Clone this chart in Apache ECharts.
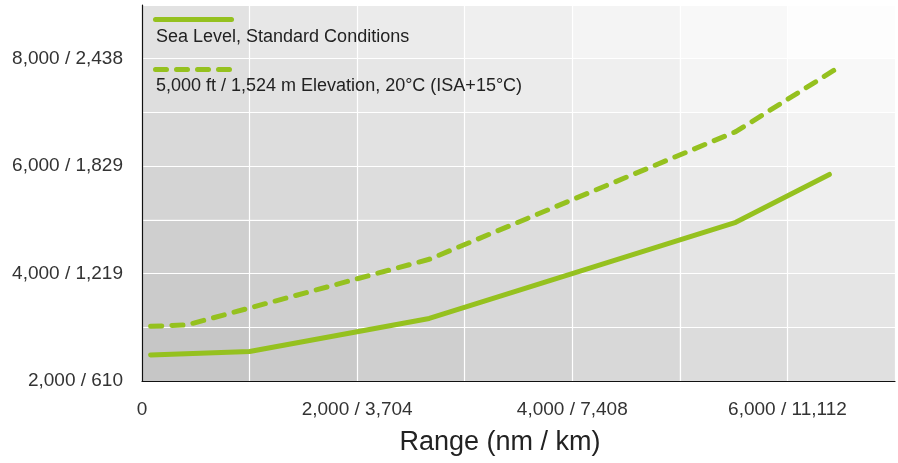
<!DOCTYPE html>
<html>
<head>
<meta charset="utf-8">
<script src="https://cdn.jsdelivr.net/npm/echarts@6/dist/echarts.min.js"></script>
<style>
html,body{margin:0;padding:0;background:#fff;overflow:hidden;}
#chart{width:898px;height:463px;}
</style>
</head>
<body>
<div id="chart"></div>
<script>
// ---- data ----
const seriesNames = ['Sea Level, Standard Conditions', '5,000 ft / 1,524 m Elevation, 20°C (ISA+15°C)'];
const rangeSea = [80, 1000, 2670, 5520, 6390];
const ceilSea  = [2484, 2550, 3164, 4955, 5845];
const rangeHot = [80, 420, 2670, 5520, 6430];
const ceilHot  = [3018, 3045, 4266, 6642, 7781];
const xTickValues = [0, 2000, 4000, 6000];
const xTickLabels = ['0', '2,000 / 3,704', '4,000 / 7,408', '6,000 / 11,112'];
const yTickValues = [2000, 4000, 6000, 8000];
const yTickLabels = ['2,000 / 610', '4,000 / 1,219', '6,000 / 1,829', '8,000 / 2,438'];
const xName = 'Range (nm / km)';

// ---- styling ----
const GREEN = '#95c11f';
const FONT = '"Liberation Sans", Arial, Helvetica, sans-serif';
const X_MIN = 0, X_MAX = 7000, X_STEP = 1000;
const Y_MIN = 2000, Y_MAX = 9000, Y_STEP = 1000;
const DASH = 11, GAP = 10;

// background cells derived from axis extents
const cells = [];
for (let i = 0; i < (X_MAX - X_MIN) / X_STEP; i++) {
  for (let j = 0; j < (Y_MAX - Y_MIN) / Y_STEP; j++) {
    cells.push([X_MIN + i * X_STEP, Y_MIN + j * Y_STEP, i, j]);
  }
}
function cellColor(i, j) {
  const v = Math.min(255, Math.round(198 + 4.4 * i + 4.7 * j));
  return 'rgb(' + v + ',' + v + ',' + v + ')';
}

const seaData = rangeSea.map((r, k) => [r, ceilSea[k]]);
const hotData = rangeHot.map((r, k) => [r, ceilHot[k]]);

const chart = echarts.init(document.getElementById('chart'), null, {renderer: 'canvas'});
chart.setOption({
  backgroundColor: '#ffffff',
  animation: false,
  grid: {left: 142, width: 758, top: 5, height: 376},
  xAxis: {
    type: 'value', min: X_MIN, max: X_MAX, interval: X_STEP,
    axisLine: {show: true, onZero: false, lineStyle: {color: '#111', width: 1.2}},
    axisTick: {show: false},
    axisLabel: {
      margin: 19, fontSize: 19, color: '#333', fontFamily: FONT,
      formatter: function (v) { const k = xTickValues.indexOf(v); return k >= 0 ? xTickLabels[k] : ''; }
    },
    splitLine: {show: true, lineStyle: {color: '#ffffff', width: 1.2}}
  },
  yAxis: {
    type: 'value', min: Y_MIN, max: Y_MAX, interval: Y_STEP,
    axisLine: {show: true, onZero: false, lineStyle: {color: '#111', width: 1.2}},
    axisTick: {show: false},
    axisLabel: {
      margin: 19, fontSize: 19, color: '#333', fontFamily: FONT,
      formatter: function (v) { const k = yTickValues.indexOf(v); return k >= 0 ? yTickLabels[k] : ''; }
    },
    splitLine: {show: true, lineStyle: {color: '#ffffff', width: 1.2}}
  },
  series: [
    {
      type: 'custom', z: -1, silent: true,
      data: cells,
      encode: {x: 0, y: 1},
      renderItem: function (params, api) {
        const x = api.value(0), y = api.value(1);
        const p0 = api.coord([x, y]);
        const p1 = api.coord([x + X_STEP, y + Y_STEP]);
        return {
          type: 'rect',
          shape: {x: p0[0], y: p1[1], width: p1[0] - p0[0], height: p0[1] - p1[1]},
          style: {fill: cellColor(api.value(2), api.value(3))}
        };
      }
    },
    {
      name: seriesNames[0], type: 'line', symbol: 'none', smooth: false,
      data: seaData,
      lineStyle: {color: GREEN, width: 5, cap: 'round', join: 'round'},
      z: 3
    },
    {
      id: 'hot',
      name: seriesNames[1], type: 'line', symbol: 'none', smooth: false,
      data: hotData,
      lineStyle: {color: GREEN, width: 5, type: [DASH, GAP], cap: 'round', join: 'round'},
      z: 3
    }
  ],
  graphic: [
    {type: 'line', z: 10, shape: {x1: 155.5, y1: 19.5, x2: 231.5, y2: 19.5},
      style: {stroke: GREEN, lineWidth: 5, lineCap: 'round'}},
    {type: 'text', z: 10, style: {x: 156, y: 37, text: seriesNames[0], fontSize: 18, fontFamily: FONT, fill: '#222', verticalAlign: 'middle'}},
    {type: 'line', z: 10, shape: {x1: 155.5, y1: 69.5, x2: 235, y2: 69.5},
      style: {stroke: GREEN, lineWidth: 5, lineCap: 'round', lineDash: [DASH, GAP]}},
    {type: 'text', z: 10, style: {x: 156, y: 86, text: seriesNames[1], fontSize: 18, fontFamily: FONT, fill: '#222', verticalAlign: 'middle'}},
    {type: 'text', z: 10, style: {x: 500, y: 443, text: xName, fontSize: 27, fontFamily: FONT, fill: '#222', align: 'center', verticalAlign: 'middle'}}
  ]
});

// fit the dash pattern so the dashed line both starts and ends with a dash
(function () {
  const pts = hotData.map(d => chart.convertToPixel({gridIndex: 0}, d));
  let L = 0;
  for (let k = 1; k < pts.length; k++) {
    L += Math.hypot(pts[k][0] - pts[k - 1][0], pts[k][1] - pts[k - 1][1]);
  }
  const n = Math.max(1, Math.round((L - DASH) / (DASH + GAP)));
  const s = L / (n * (DASH + GAP) + DASH);
  chart.setOption({
    series: [{id: 'hot', lineStyle: {type: [DASH * s, GAP * s], dashOffset: 0}}]
  });
})();
</script>
</body>
</html>
